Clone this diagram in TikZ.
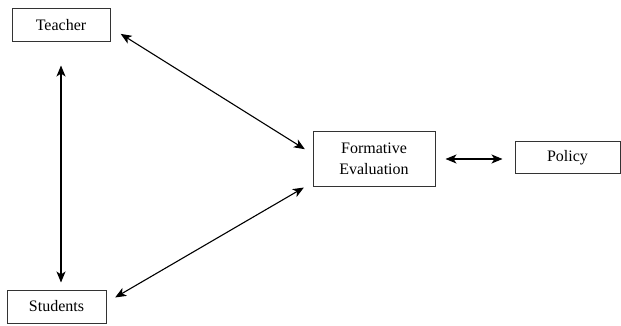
\documentclass[tikz,border=0pt]{standalone}
\usepackage{fontspec}
\setmainfont{Liberation Serif}
\usetikzlibrary{arrows.meta}
\usetikzlibrary{calc}
\usetikzlibrary{positioning}

\begin{document}
\begin{tikzpicture}[x=1pt,y=1pt,
    box/.style={draw=black!80,line width=1pt,inner sep=0pt,align=center,
      font=\fontsize{16}{21}\selectfont},
    link/.style={<->,line width=1.1pt,>={Stealth[length=11pt,width=9pt,inset=3pt]}}]
    \useasboundingbox (0,0) rectangle (621,-326);
    \node[box,minimum width=98pt,minimum height=33pt] (T) at (61,-25.5) {Teacher};
    \node[box,minimum width=99pt,minimum height=33pt] (S) at (56.5,-306.5) {Students};
    \node[box,minimum width=122pt,minimum height=54pt] (FE) at (374,-159) {Formative\\Evaluation};
    \node[box,minimum width=105pt,minimum height=32pt] (P) at (567.5,-157.5) {Policy};
    \path [link,shorten <=23pt,shorten >=7pt] (T.south) edge (T.south |- S.north);
    \path [link,shorten <=12pt,shorten >=9pt] ([yshift=-2pt]T.east) edge ([yshift=5pt]FE.west);
    \path [link,shorten <=10pt,shorten >=10pt] ([yshift=4pt]S.east) edge ([yshift=4pt]FE.south west);
    \path [link,shorten <=10pt,shorten >=12pt] (FE.east) edge (FE.east -| P.west);
  \end{tikzpicture}
\end{document}
